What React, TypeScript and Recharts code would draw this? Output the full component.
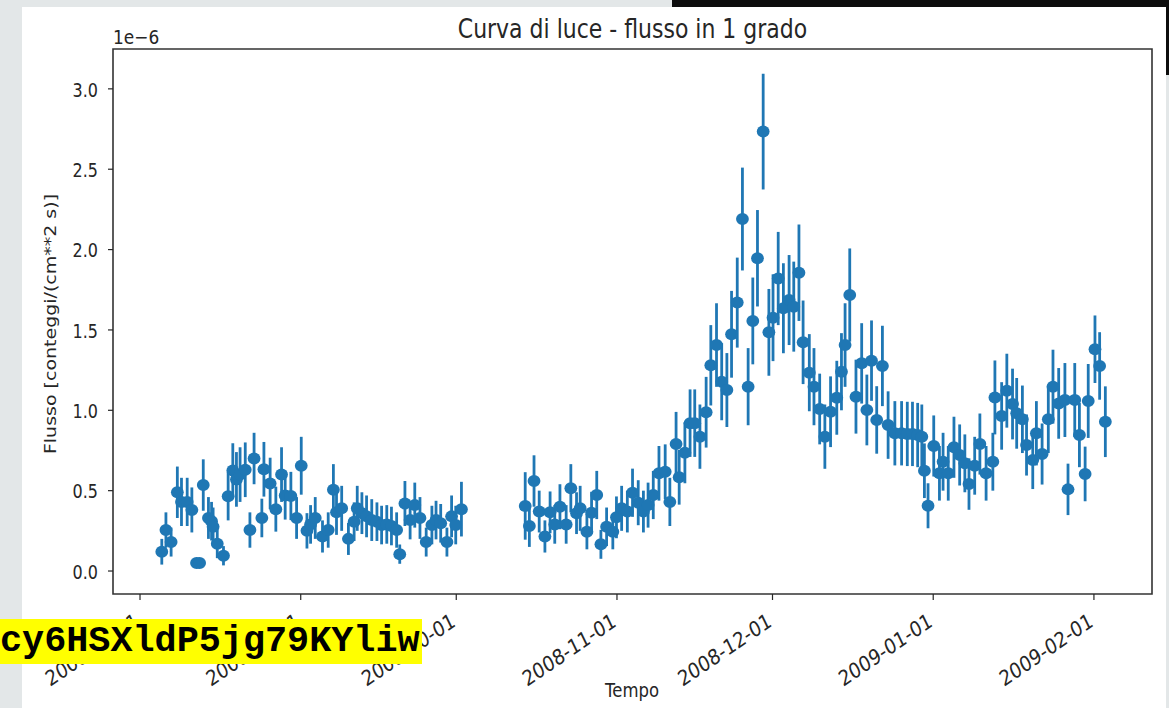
import React from 'react';
import { ScatterChart, Scatter, ErrorBar, XAxis, YAxis, ReferenceArea } from 'recharts';

// observation time, days after 2008-08-01
const obsDay = [
  4.2, 5.0, 6.0, 7.2, 8.0, 9.1, 10.0, 10.9, 11.5, 12.2,
  13.2, 13.8, 14.1, 14.9, 16.1, 17.0, 17.9, 18.6, 19.3, 20.3,
  21.2, 22.0, 23.5, 23.9, 25.1, 26.2, 27.3, 28.0, 29.1, 30.2,
  31.1, 32.2, 32.9, 33.8, 35.2, 36.3, 37.3, 37.9, 38.9, 40.2,
  41.3, 41.9, 42.8, 43.7, 44.7, 45.7, 46.6, 47.6, 48.5, 49.5,
  50.1, 51.1, 52.1, 53.0, 54.0, 55.2, 56.3, 57.1, 58.0, 59.2,
  60.1, 60.9, 62.0,
  74.3, 75.1, 76.0, 77.0, 78.1, 79.1, 80.0, 81.0, 82.2, 83.1,
  84.2, 84.9, 86.2, 87.1, 88.1, 88.9, 90.0, 91.2, 91.9, 92.9,
  94.0, 95.0, 96.1, 97.1, 98.0, 99.0, 100.1, 101.3, 102.2, 103.4,
  104.0, 105.1, 106.1, 107.0, 108.0, 109.2, 110.1, 111.2, 112.2, 113.2,
  114.1, 115.2, 116.2, 117.3, 118.2, 119.1, 120.2, 121.3, 122.1, 123.1,
  124.1, 125.2, 126.1, 127.1, 127.9, 129.1, 130.0, 131.1, 132.1, 133.2,
  134.4, 135.3, 136.0, 136.9, 138.1, 139.2, 140.2, 141.1, 142.1, 143.2,
  144.3, 145.6, 146.9, 148.0, 149.0, 150.0, 150.8, 151.3, 152.0, 153.1,
  154.2, 154.9, 155.9, 157.0, 158.1, 159.1, 159.9, 161.0, 162.0, 163.2,
  164.5, 164.9, 166.2, 167.2, 168.3, 169.1, 170.2, 171.0, 172.2, 172.9,
  174.0, 175.2, 176.1, 177.2, 178.4, 179.0, 180.3, 181.2, 182.3, 182.9,
  184.2, 185.1, 186.2,
];

// flux in units of 1e-6 counts/(cm**2 s)
const flux = [
  0.12, 0.255, 0.18, 0.49, 0.43, 0.43, 0.38, 0.05, 0.05, 0.535,
  0.33, 0.31, 0.275, 0.17, 0.095, 0.465, 0.625, 0.57, 0.6, 0.63,
  0.255, 0.7, 0.33, 0.633, 0.545, 0.385, 0.6, 0.47, 0.467, 0.33,
  0.655, 0.25, 0.29, 0.33, 0.215, 0.255, 0.505, 0.365, 0.39, 0.2,
  0.307, 0.39, 0.36, 0.34, 0.317, 0.307, 0.286, 0.29, 0.28, 0.255,
  0.105, 0.42, 0.317, 0.41, 0.33, 0.18, 0.286, 0.317, 0.297, 0.18,
  0.34, 0.286, 0.385,
  0.405, 0.28, 0.56, 0.37, 0.215, 0.365, 0.29, 0.4, 0.29, 0.515,
  0.36, 0.39, 0.245, 0.363, 0.473, 0.166, 0.275, 0.245, 0.334, 0.39,
  0.37, 0.487, 0.425, 0.37, 0.41, 0.473, 0.608, 0.618, 0.43, 0.79,
  0.583, 0.736, 0.92, 0.92, 0.836, 0.988, 1.28, 1.406, 1.178, 1.126,
  1.473, 1.67, 2.19, 1.147, 1.556, 1.946, 2.734, 1.485, 1.576, 1.82,
  1.635, 1.686, 1.645, 1.856, 1.423, 1.234, 1.147, 1.008, 0.836, 0.991,
  1.078, 1.24, 1.406, 1.717, 1.085, 1.292, 1.002, 1.309, 0.94, 1.276,
  0.908, 0.857, 0.857, 0.853, 0.853, 0.846, 0.836, 0.624, 0.406, 0.778,
  0.608, 0.68, 0.608, 0.77, 0.722, 0.67, 0.541, 0.655, 0.79, 0.608,
  0.68, 1.08, 0.965, 1.122, 1.039, 0.981, 0.944, 0.784, 0.69, 0.857,
  0.728, 0.944, 1.147, 1.043, 1.064, 0.508, 1.064, 0.846, 0.604, 1.058,
  1.38, 1.276, 0.929,
];

const fluxErr = [
  0.08, 0.11, 0.09, 0.16, 0.15, 0.15, 0.14, 0.03, 0.03, 0.16,
  0.13, 0.12, 0.12, 0.09, 0.06, 0.15, 0.17, 0.17, 0.17, 0.17,
  0.11, 0.16, 0.12, 0.17, 0.16, 0.14, 0.17, 0.15, 0.15, 0.13,
  0.18, 0.11, 0.12, 0.13, 0.1, 0.11, 0.16, 0.14, 0.14, 0.1,
  0.12, 0.14, 0.13, 0.13, 0.13, 0.12, 0.12, 0.12, 0.12, 0.11,
  0.06, 0.14, 0.12, 0.14, 0.13, 0.09, 0.12, 0.12, 0.12, 0.09,
  0.13, 0.12, 0.17,
  0.21, 0.13, 0.16, 0.13, 0.1, 0.13, 0.12, 0.14, 0.12, 0.15,
  0.13, 0.14, 0.11, 0.13, 0.15, 0.09, 0.12, 0.11, 0.13, 0.14,
  0.13, 0.15, 0.14, 0.13, 0.14, 0.15, 0.17, 0.17, 0.15, 0.2,
  0.17, 0.19, 0.21, 0.21, 0.2, 0.22, 0.25, 0.26, 0.24, 0.23,
  0.27, 0.28, 0.32, 0.24, 0.27, 0.3, 0.36, 0.27, 0.27, 0.29,
  0.28, 0.28, 0.28, 0.3, 0.26, 0.24, 0.24, 0.22, 0.2, 0.22,
  0.23, 0.24, 0.26, 0.29, 0.23, 0.25, 0.22, 0.25, 0.21, 0.25,
  0.21, 0.2, 0.2, 0.2, 0.2, 0.2, 0.2, 0.17, 0.14, 0.19,
  0.17, 0.18, 0.17, 0.19, 0.19, 0.18, 0.16, 0.18, 0.19, 0.17,
  0.18, 0.23, 0.21, 0.23, 0.22, 0.22, 0.21, 0.19, 0.18, 0.2,
  0.19, 0.21, 0.23, 0.22, 0.23, 0.16, 0.23, 0.2, 0.17, 0.23,
  0.21, 0.21, 0.22,
];

const tickDates = ['2008-08-01', '2008-09-01', '2008-10-01', '2008-11-01', '2008-12-01', '2009-01-01', '2009-02-01'];
const fluxTicks = [0, 0.5, 1, 1.5, 2, 2.5, 3];

const DAY_MS = 86400000;
const BASE = Date.UTC(2008, 7, 1);
const X_MIN = -5.21;
const X_MAX = 195.2;
const Y_MIN = -0.143;
const Y_MAX = 3.248;

const BLUE = '#1f77b4';
const INK = '#262626';
const FONT = '"DejaVu Sans", sans-serif';
const STRETCH = 1.18; // text is drawn a bit taller than wide

const points = obsDay.map((day, i) => ({ day, flux: flux[i], err: fluxErr[i] }));
const xTicks = tickDates.map((s) => (Date.parse(s) - BASE) / DAY_MS);

const fmtDate = (d: number) => new Date(BASE + d * DAY_MS).toISOString().slice(0, 10);

function Label({ x, y, size, anchor = 'start', rotate = 0, dy = 0, children }: any) {
  return (
    <text
      transform={`translate(${x} ${y}) scale(1 ${STRETCH}) rotate(${rotate})`}
      dy={dy}
      textAnchor={anchor}
      fontSize={size}
      fontFamily={FONT}
      fill={INK}
    >
      {children}
    </text>
  );
}

function DateTick({ x, y, payload }: any) {
  return (
    <Label x={x - 6} y={y} size={18} anchor="end" rotate={-30} dy="0.72em">
      {fmtDate(payload.value)}
    </Label>
  );
}

function FluxTick({ x, y, payload }: any) {
  return (
    <Label x={x} y={y + 1} size={16} anchor="end" dy="0.36em">
      {payload.value.toFixed(1)}
    </Label>
  );
}

function Dot(props: any) {
  return <ellipse cx={props.cx} cy={props.cy} rx={6.4} ry={6} fill={BLUE} />;
}

export default function App() {
  return (
    <div style={{ position: 'absolute', left: 0, top: 0, width: 1169, height: 708, background: '#e3e7e8', overflow: 'hidden' }}>
      <div style={{ position: 'absolute', left: 672, top: 0, width: 497, height: 7, background: '#0d0d0d' }} />
      <div style={{ position: 'absolute', left: 1166, top: 7, width: 3, height: 68, background: '#0d0d0d' }} />
      <div style={{ position: 'absolute', left: 22, top: 7, width: 1144, height: 701, background: '#ffffff' }} />

      <div style={{ position: 'absolute', left: 0, top: 0 }}>
        <ScatterChart width={1169} height={708} margin={{ top: 49, right: 17, bottom: 0, left: 0 }}>
          <XAxis
            type="number"
            dataKey="day"
            domain={[X_MIN, X_MAX]}
            ticks={xTicks}
            allowDataOverflow
            height={114}
            axisLine={false}
            tickLine={{ stroke: INK, strokeWidth: 1.2 }}
            tickSize={6}
            tickMargin={12}
            tick={<DateTick />}
            interval={0}
            label={{
              content: () => (
                <Label x={632} y={697} size={16.5} anchor="middle">
                  Tempo
                </Label>
              ),
            }}
          />
          <YAxis
            type="number"
            dataKey="flux"
            domain={[Y_MIN, Y_MAX]}
            ticks={fluxTicks}
            allowDataOverflow
            width={113}
            axisLine={false}
            tickLine={{ stroke: INK, strokeWidth: 1.2 }}
            tickSize={5}
            tickMargin={10}
            tick={<FluxTick />}
            label={{
              content: () => (
                <Label x={50} y={324} size={16.1} anchor="middle" rotate={-90} dy="0.36em">
                  Flusso [conteggi/(cm**2 s)]
                </Label>
              ),
            }}
          />
          <Scatter data={points} shape={<Dot />} isAnimationActive={false}>
            <ErrorBar dataKey="err" direction="y" width={0} stroke={BLUE} strokeWidth={2.8} />
          </Scatter>
          <ReferenceArea
            x1={X_MIN}
            x2={X_MAX}
            y1={Y_MIN}
            y2={Y_MAX}
            fill="none"
            stroke="#333333"
            strokeWidth={1.6}
            ifOverflow="visible"
          />
        </ScatterChart>
      </div>

      <svg width={1169} height={708} style={{ position: 'absolute', left: 0, top: 0, pointerEvents: 'none' }}>
        <Label x={632.5} y={38} size={22} anchor="middle">
          Curva di luce - flusso in 1 grado
        </Label>
        <Label x={113} y={44} size={17}>
          1e−6
        </Label>
      </svg>

      <div
        style={{
          position: 'absolute', left: 0, top: 619, height: 45, lineHeight: '45px', paddingRight: 2,
          background: '#ffff00', color: '#000', fontFamily: '"Liberation Mono", monospace',
          fontWeight: 'bold', fontSize: 36.8, whiteSpace: 'nowrap',
        }}
      >
        cy6HSXldP5jg79KYliw
      </div>
    </div>
  );
}
